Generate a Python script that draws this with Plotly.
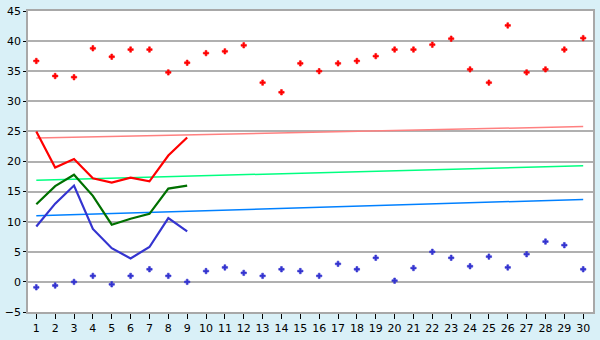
import plotly.graph_objects as go

days = list(range(1, 31))
high_pts = [36.7, 34.2, 34.0, 38.8, 37.4, 38.6, 38.6, 34.8, 36.4, 38.0,
            38.3, 39.3, 33.1, 31.5, 36.3, 35.0, 36.3, 36.7, 37.5, 38.6,
            38.6, 39.4, 40.4, 35.3, 33.1, 42.6, 34.8, 35.3, 38.6, 40.5]
low_pts = [-0.9, -0.6, 0.0, 1.0, -0.4, 1.0, 2.1, 1.0, 0.0, 1.8,
           2.4, 1.5, 1.0, 2.1, 1.8, 1.0, 3.0, 2.1, 4.0, 0.2,
           2.3, 5.0, 4.0, 2.6, 4.2, 2.4, 4.6, 6.7, 6.1, 2.1]
line_days = list(range(1, 10))
red_line = [25.0, 19.0, 20.4, 17.2, 16.5, 17.3, 16.7, 21.0, 24.0]
green_line = [12.9, 15.9, 17.8, 14.3, 9.5, 10.5, 11.3, 15.5, 16.0]
blue_line = [9.2, 13.0, 16.0, 8.8, 5.6, 3.9, 5.8, 10.6, 8.4]
trend_x = [1, 30]
red_trend = [23.9, 25.8]
green_trend = [16.9, 19.3]
blue_trend = [11.0, 13.7]
y_ticks = list(range(-5, 50, 5))

BLUE = "#3434d0"
fig = go.Figure()
fig.add_trace(go.Scatter(x=trend_x, y=red_trend, mode="lines", line=dict(color="#ff8080", width=1.5)))
fig.add_trace(go.Scatter(x=trend_x, y=green_trend, mode="lines", line=dict(color="#00ff80", width=1.5)))
fig.add_trace(go.Scatter(x=trend_x, y=blue_trend, mode="lines", line=dict(color="#0080ff", width=1.5)))
fig.add_trace(go.Scatter(x=line_days, y=red_line, mode="lines", line=dict(color="#ff0000", width=2.2)))
fig.add_trace(go.Scatter(x=line_days, y=green_line, mode="lines", line=dict(color="#007000", width=2.2)))
fig.add_trace(go.Scatter(x=line_days, y=blue_line, mode="lines", line=dict(color=BLUE, width=2.2)))
fig.add_trace(go.Scatter(x=days, y=high_pts, mode="markers",
                         marker=dict(symbol="cross", size=4.5, color="#ff0000",
                                     line=dict(width=0.6, color="#ff0000"))))
fig.add_trace(go.Scatter(x=days, y=low_pts, mode="markers",
                         marker=dict(symbol="cross", size=4.5, color=BLUE,
                                     line=dict(width=0.6, color=BLUE))))

fig.update_layout(
    width=600, height=340,
    margin=dict(l=21, r=5, t=5, b=20),
    paper_bgcolor="#d9f0f7", plot_bgcolor="#ffffff",
    showlegend=False,
    font=dict(family="DejaVu Sans", size=11, color="#000000"),
)
fig.update_xaxes(range=[0.56, 30.52], tickmode="array", tickvals=days,
                 showgrid=False, zeroline=False, showline=True, mirror=True,
                 linecolor="#a8a8a8", linewidth=1.5, ticks="outside", ticklen=5,
                 tickcolor="#000000", tickwidth=1)
fig.update_yaxes(range=[-5, 45], tickmode="array", tickvals=y_ticks,
                 showgrid=True, gridcolor="#b0b0b0", gridwidth=1.5, zeroline=False,
                 showline=True, mirror=True, linecolor="#a8a8a8", linewidth=1.5,
                 ticks="outside", ticklen=3, tickcolor="#000000", tickwidth=1)
fig.write_html("out.html")
